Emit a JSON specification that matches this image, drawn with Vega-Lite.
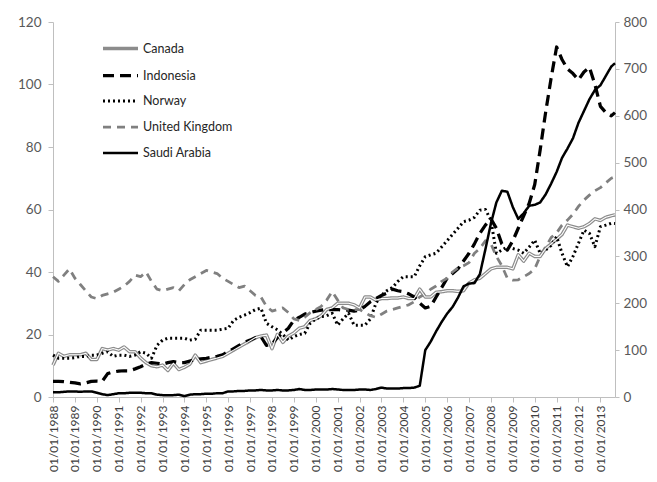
{
  "$schema": "https://vega.github.io/schema/vega-lite/v6.json",
  "width": 562,
  "height": 375,
  "autosize": "none",
  "padding": {"left": 53, "top": 22, "right": 42, "bottom": 85},
  "background": "white",
  "config": {"view": {"stroke": null}, "font": "Lato", "legend": {"rowPadding": -1.7}},
  "data": {"values": [
    {"d":"1988-01-01","Canada":10.2,"Indonesia":5,"Norway":13.4,"United Kingdom":38.5,"Saudi Arabia":10},
    {"d":"1988-04-01","Canada":14,"Indonesia":5,"Norway":12.4,"United Kingdom":37,"Saudi Arabia":10},
    {"d":"1988-07-01","Canada":13,"Indonesia":4.9,"Norway":12.4,"United Kingdom":39,"Saudi Arabia":11},
    {"d":"1988-10-01","Canada":13.5,"Indonesia":4.7,"Norway":12.4,"United Kingdom":41,"Saudi Arabia":12},
    {"d":"1989-01-01","Canada":13.5,"Indonesia":4.5,"Norway":12.6,"United Kingdom":38,"Saudi Arabia":12},
    {"d":"1989-04-01","Canada":13.5,"Indonesia":4.2,"Norway":13,"United Kingdom":36,"Saudi Arabia":11},
    {"d":"1989-07-01","Canada":14,"Indonesia":4.5,"Norway":13,"United Kingdom":34,"Saudi Arabia":12},
    {"d":"1989-10-01","Canada":12,"Indonesia":5,"Norway":13.4,"United Kingdom":32,"Saudi Arabia":12},
    {"d":"1990-01-01","Canada":12,"Indonesia":5.1,"Norway":13.4,"United Kingdom":31.5,"Saudi Arabia":9},
    {"d":"1990-04-01","Canada":15.5,"Indonesia":5,"Norway":14,"United Kingdom":32.5,"Saudi Arabia":6},
    {"d":"1990-07-01","Canada":15,"Indonesia":7.5,"Norway":14.5,"United Kingdom":33,"Saudi Arabia":4},
    {"d":"1990-10-01","Canada":15.5,"Indonesia":8,"Norway":13,"United Kingdom":33.5,"Saudi Arabia":6},
    {"d":"1991-01-01","Canada":15,"Indonesia":8.3,"Norway":13.4,"United Kingdom":34.5,"Saudi Arabia":8},
    {"d":"1991-04-01","Canada":16,"Indonesia":8.4,"Norway":13.4,"United Kingdom":35.5,"Saudi Arabia":8},
    {"d":"1991-07-01","Canada":14.5,"Indonesia":8.4,"Norway":13,"United Kingdom":37,"Saudi Arabia":9},
    {"d":"1991-10-01","Canada":14.5,"Indonesia":9,"Norway":13.4,"United Kingdom":39,"Saudi Arabia":9},
    {"d":"1992-01-01","Canada":12.5,"Indonesia":9.7,"Norway":14.5,"United Kingdom":38.5,"Saudi Arabia":9},
    {"d":"1992-04-01","Canada":11,"Indonesia":10.5,"Norway":14,"United Kingdom":40,"Saudi Arabia":8},
    {"d":"1992-07-01","Canada":10,"Indonesia":11,"Norway":12.4,"United Kingdom":37,"Saudi Arabia":8},
    {"d":"1992-10-01","Canada":9.7,"Indonesia":10.8,"Norway":16.5,"United Kingdom":34.5,"Saudi Arabia":5},
    {"d":"1993-01-01","Canada":10.2,"Indonesia":10.5,"Norway":18.2,"United Kingdom":34,"Saudi Arabia":4},
    {"d":"1993-04-01","Canada":8.5,"Indonesia":11,"Norway":18.8,"United Kingdom":34.5,"Saudi Arabia":4},
    {"d":"1993-07-01","Canada":10.8,"Indonesia":11.3,"Norway":18.8,"United Kingdom":35,"Saudi Arabia":4},
    {"d":"1993-10-01","Canada":8.8,"Indonesia":11,"Norway":18.8,"United Kingdom":34,"Saudi Arabia":5},
    {"d":"1994-01-01","Canada":9.5,"Indonesia":11,"Norway":18.8,"United Kingdom":36,"Saudi Arabia":2},
    {"d":"1994-04-01","Canada":10.5,"Indonesia":11.5,"Norway":18.2,"United Kingdom":37.5,"Saudi Arabia":5},
    {"d":"1994-07-01","Canada":13.4,"Indonesia":12,"Norway":18.5,"United Kingdom":38.5,"Saudi Arabia":6},
    {"d":"1994-10-01","Canada":11,"Indonesia":12.2,"Norway":21.4,"United Kingdom":39.5,"Saudi Arabia":6},
    {"d":"1995-01-01","Canada":11.5,"Indonesia":12.4,"Norway":21.4,"United Kingdom":40.5,"Saudi Arabia":7},
    {"d":"1995-04-01","Canada":12,"Indonesia":12.7,"Norway":21.4,"United Kingdom":40,"Saudi Arabia":7},
    {"d":"1995-07-01","Canada":12.5,"Indonesia":13,"Norway":21.4,"United Kingdom":39.5,"Saudi Arabia":8},
    {"d":"1995-10-01","Canada":13,"Indonesia":13.5,"Norway":21.7,"United Kingdom":38,"Saudi Arabia":8},
    {"d":"1996-01-01","Canada":14,"Indonesia":14.5,"Norway":22,"United Kingdom":37,"Saudi Arabia":12},
    {"d":"1996-04-01","Canada":15,"Indonesia":15.5,"Norway":24.5,"United Kingdom":36,"Saudi Arabia":12},
    {"d":"1996-07-01","Canada":16,"Indonesia":16.5,"Norway":25.5,"United Kingdom":35,"Saudi Arabia":13},
    {"d":"1996-10-01","Canada":17,"Indonesia":17.5,"Norway":26.2,"United Kingdom":35.5,"Saudi Arabia":13},
    {"d":"1997-01-01","Canada":18,"Indonesia":18.2,"Norway":27,"United Kingdom":34,"Saudi Arabia":14},
    {"d":"1997-04-01","Canada":19,"Indonesia":19,"Norway":28,"United Kingdom":32.5,"Saudi Arabia":14},
    {"d":"1997-07-01","Canada":19.5,"Indonesia":19.3,"Norway":28.4,"United Kingdom":32,"Saudi Arabia":15},
    {"d":"1997-10-01","Canada":19.8,"Indonesia":16.5,"Norway":23.6,"United Kingdom":29,"Saudi Arabia":14},
    {"d":"1998-01-01","Canada":15.5,"Indonesia":17,"Norway":22.5,"United Kingdom":27.5,"Saudi Arabia":14},
    {"d":"1998-04-01","Canada":20,"Indonesia":19,"Norway":21.5,"United Kingdom":28,"Saudi Arabia":15},
    {"d":"1998-07-01","Canada":17.5,"Indonesia":20.5,"Norway":20,"United Kingdom":28.5,"Saudi Arabia":14},
    {"d":"1998-10-01","Canada":19.5,"Indonesia":22,"Norway":18.2,"United Kingdom":27,"Saudi Arabia":14},
    {"d":"1999-01-01","Canada":20.5,"Indonesia":24.6,"Norway":19.3,"United Kingdom":25,"Saudi Arabia":15},
    {"d":"1999-04-01","Canada":22,"Indonesia":25.5,"Norway":20,"United Kingdom":24.5,"Saudi Arabia":17},
    {"d":"1999-07-01","Canada":22.5,"Indonesia":26.5,"Norway":20.4,"United Kingdom":25.5,"Saudi Arabia":15},
    {"d":"1999-10-01","Canada":24.5,"Indonesia":27,"Norway":23.6,"United Kingdom":27,"Saudi Arabia":15},
    {"d":"2000-01-01","Canada":25,"Indonesia":27.5,"Norway":25,"United Kingdom":28,"Saudi Arabia":16},
    {"d":"2000-04-01","Canada":26,"Indonesia":27.8,"Norway":25.7,"United Kingdom":29,"Saudi Arabia":16},
    {"d":"2000-07-01","Canada":28,"Indonesia":28,"Norway":26,"United Kingdom":31,"Saudi Arabia":16},
    {"d":"2000-10-01","Canada":28.5,"Indonesia":28,"Norway":26.8,"United Kingdom":33.7,"Saudi Arabia":17},
    {"d":"2001-01-01","Canada":30,"Indonesia":28,"Norway":23,"United Kingdom":31,"Saudi Arabia":16},
    {"d":"2001-04-01","Canada":30,"Indonesia":27.8,"Norway":25,"United Kingdom":28.5,"Saudi Arabia":15},
    {"d":"2001-07-01","Canada":30,"Indonesia":27.8,"Norway":26.8,"United Kingdom":28,"Saudi Arabia":15},
    {"d":"2001-10-01","Canada":29.5,"Indonesia":27.5,"Norway":23,"United Kingdom":28,"Saudi Arabia":15},
    {"d":"2002-01-01","Canada":28.5,"Indonesia":27.8,"Norway":23,"United Kingdom":28,"Saudi Arabia":16},
    {"d":"2002-04-01","Canada":32,"Indonesia":29,"Norway":23,"United Kingdom":27,"Saudi Arabia":16},
    {"d":"2002-07-01","Canada":32,"Indonesia":30.5,"Norway":25,"United Kingdom":26,"Saudi Arabia":15},
    {"d":"2002-10-01","Canada":31,"Indonesia":31.5,"Norway":30,"United Kingdom":25.5,"Saudi Arabia":17},
    {"d":"2003-01-01","Canada":31.5,"Indonesia":32.5,"Norway":32.6,"United Kingdom":26.5,"Saudi Arabia":20},
    {"d":"2003-04-01","Canada":31.5,"Indonesia":33.2,"Norway":34,"United Kingdom":27.5,"Saudi Arabia":18},
    {"d":"2003-07-01","Canada":31.7,"Indonesia":34.5,"Norway":35,"United Kingdom":28,"Saudi Arabia":18},
    {"d":"2003-10-01","Canada":31.7,"Indonesia":34,"Norway":37,"United Kingdom":28.5,"Saudi Arabia":18},
    {"d":"2004-01-01","Canada":32,"Indonesia":33.7,"Norway":38.5,"United Kingdom":29,"Saudi Arabia":19},
    {"d":"2004-04-01","Canada":31.5,"Indonesia":33,"Norway":38.5,"United Kingdom":29.5,"Saudi Arabia":19},
    {"d":"2004-07-01","Canada":31.5,"Indonesia":32,"Norway":38.5,"United Kingdom":30.5,"Saudi Arabia":20},
    {"d":"2004-10-01","Canada":34.5,"Indonesia":30,"Norway":42,"United Kingdom":32,"Saudi Arabia":24},
    {"d":"2005-01-01","Canada":32,"Indonesia":28.5,"Norway":44.9,"United Kingdom":33,"Saudi Arabia":100},
    {"d":"2005-04-01","Canada":32,"Indonesia":29,"Norway":45.5,"United Kingdom":34.5,"Saudi Arabia":118},
    {"d":"2005-07-01","Canada":33.5,"Indonesia":32,"Norway":46,"United Kingdom":35.5,"Saudi Arabia":140},
    {"d":"2005-10-01","Canada":33.7,"Indonesia":35,"Norway":48,"United Kingdom":37,"Saudi Arabia":160},
    {"d":"2006-01-01","Canada":34,"Indonesia":38,"Norway":50,"United Kingdom":38,"Saudi Arabia":178},
    {"d":"2006-04-01","Canada":34,"Indonesia":39.5,"Norway":52,"United Kingdom":40,"Saudi Arabia":192},
    {"d":"2006-07-01","Canada":33.8,"Indonesia":41,"Norway":54,"United Kingdom":41.3,"Saudi Arabia":212},
    {"d":"2006-10-01","Canada":34,"Indonesia":43.5,"Norway":56.1,"United Kingdom":42,"Saudi Arabia":236},
    {"d":"2007-01-01","Canada":36.5,"Indonesia":46,"Norway":56.6,"United Kingdom":43,"Saudi Arabia":242},
    {"d":"2007-04-01","Canada":37.5,"Indonesia":49,"Norway":57.5,"United Kingdom":46,"Saudi Arabia":243},
    {"d":"2007-07-01","Canada":38,"Indonesia":52.4,"Norway":59.8,"United Kingdom":47.5,"Saudi Arabia":262},
    {"d":"2007-10-01","Canada":39.5,"Indonesia":55,"Norway":60,"United Kingdom":50,"Saudi Arabia":315},
    {"d":"2008-01-01","Canada":41,"Indonesia":57,"Norway":56.6,"United Kingdom":49,"Saudi Arabia":370},
    {"d":"2008-04-01","Canada":41.5,"Indonesia":54,"Norway":46,"United Kingdom":45,"Saudi Arabia":415},
    {"d":"2008-07-01","Canada":41.5,"Indonesia":49,"Norway":47,"United Kingdom":42,"Saudi Arabia":440},
    {"d":"2008-10-01","Canada":41.5,"Indonesia":47,"Norway":48.1,"United Kingdom":38,"Saudi Arabia":438},
    {"d":"2009-01-01","Canada":41,"Indonesia":50,"Norway":47.5,"United Kingdom":37.4,"Saudi Arabia":405},
    {"d":"2009-04-01","Canada":45.5,"Indonesia":54,"Norway":47,"United Kingdom":37.5,"Saudi Arabia":380},
    {"d":"2009-07-01","Canada":43.5,"Indonesia":58,"Norway":46,"United Kingdom":38.5,"Saudi Arabia":392},
    {"d":"2009-10-01","Canada":46,"Indonesia":62,"Norway":48,"United Kingdom":39.5,"Saudi Arabia":408},
    {"d":"2010-01-01","Canada":45,"Indonesia":68,"Norway":50.2,"United Kingdom":41,"Saudi Arabia":410},
    {"d":"2010-04-01","Canada":45,"Indonesia":79,"Norway":46,"United Kingdom":45,"Saudi Arabia":415},
    {"d":"2010-07-01","Canada":47.5,"Indonesia":91,"Norway":47,"United Kingdom":48,"Saudi Arabia":432},
    {"d":"2010-10-01","Canada":49,"Indonesia":102,"Norway":48.5,"United Kingdom":51,"Saudi Arabia":455},
    {"d":"2011-01-01","Canada":50.5,"Indonesia":112,"Norway":51.3,"United Kingdom":52.5,"Saudi Arabia":480},
    {"d":"2011-04-01","Canada":52,"Indonesia":108,"Norway":46,"United Kingdom":55,"Saudi Arabia":510},
    {"d":"2011-07-01","Canada":55,"Indonesia":105,"Norway":41.7,"United Kingdom":56.6,"Saudi Arabia":530},
    {"d":"2011-10-01","Canada":54.5,"Indonesia":103.5,"Norway":45,"United Kingdom":58.5,"Saudi Arabia":552},
    {"d":"2012-01-01","Canada":54,"Indonesia":101.5,"Norway":49.2,"United Kingdom":61,"Saudi Arabia":585},
    {"d":"2012-04-01","Canada":54.5,"Indonesia":104,"Norway":53.4,"United Kingdom":63,"Saudi Arabia":610},
    {"d":"2012-07-01","Canada":55.5,"Indonesia":105.5,"Norway":52.4,"United Kingdom":64.6,"Saudi Arabia":635},
    {"d":"2012-10-01","Canada":57,"Indonesia":100,"Norway":48.1,"United Kingdom":66,"Saudi Arabia":655},
    {"d":"2013-01-01","Canada":56.5,"Indonesia":93,"Norway":54.5,"United Kingdom":67,"Saudi Arabia":665},
    {"d":"2013-04-01","Canada":57.5,"Indonesia":91,"Norway":55,"United Kingdom":68.5,"Saudi Arabia":685},
    {"d":"2013-07-01","Canada":58,"Indonesia":90,"Norway":55.6,"United Kingdom":70,"Saudi Arabia":705},
    {"d":"2013-09-01","Canada":58.3,"Indonesia":91,"Norway":55.5,"United Kingdom":70.5,"Saudi Arabia":712}
  ]},
  "encoding": {
    "x": {
      "field": "d", "type": "temporal",
      "scale": {"type": "utc", "domain": [{"year": 1988, "month": 1, "date": 1, "utc": true}, {"year": 2013, "month": 9, "date": 1, "utc": true}]},
      "axis": {
        "title": null, "grid": false,
        "tickCount": {"interval": "year", "step": 1},
        "format": "%d/%m/%Y",
        "labelAngle": -90, "labelFontSize": 12, "labelColor": "#404040",
        "labelPadding": 3, "tickSize": 5, "tickColor": "#bfbfbf", "domainColor": "#bfbfbf",
        "labelOverlap": false, "labelFlush": false
      }
    }
  },
  "layer": [
    {
      "transform": [{"fold": ["Canada", "Indonesia", "Norway", "United Kingdom"], "as": ["country", "v"]}],
      "mark": {"type": "line", "strokeCap": "butt", "strokeJoin": "round"},
      "encoding": {
        "y": {"field": "v", "type": "quantitative",
          "scale": {"domain": [0, 120], "nice": false},
          "axis": {"title": null, "grid": false, "values": [0, 20, 40, 60, 80, 100, 120],
            "labelFontSize": 13.5, "labelColor": "#595959", "labelPadding": 7,
            "tickSize": 5, "tickColor": "#bfbfbf", "domainColor": "#bfbfbf"}},
        "color": {"field": "country", "type": "nominal",
          "scale": {"domain": ["Canada", "Indonesia", "Norway", "United Kingdom", "Saudi Arabia"],
                    "range": ["#8c8c8c", "#000000", "#000000", "#808080", "#000000"]},
          "legend": {"title": null, "orient": "none", "legendX": 48, "legendY": 7,
            "symbolType": "stroke", "symbolSize": 1225, "labelFontSize": 12.5, "labelColor": "#262626",
            "labelOffset": 3}},
        "strokeDash": {"field": "country", "type": "nominal",
          "scale": {"domain": ["Canada", "Indonesia", "Norway", "United Kingdom", "Saudi Arabia"],
                    "range": [[1, 0], [11, 6], [2, 3], [8, 6], [1, 0]]}},
        "strokeWidth": {"field": "country", "type": "nominal",
          "scale": {"domain": ["Canada", "Indonesia", "Norway", "United Kingdom", "Saudi Arabia"],
                    "range": [3.5, 2.5, 2, 3, 2.5]}}
      }
    },
    {
      "transform": [{"fold": ["Canada"], "as": ["country", "v"]}],
      "mark": {"type": "line", "color": "white", "strokeWidth": 1.1},
      "encoding": {
        "y": {"field": "v", "type": "quantitative", "scale": {"domain": [0, 120], "nice": false}, "axis": null}
      }
    },
    {
      "transform": [{"fold": ["Saudi Arabia"], "as": ["country", "v"]}],
      "mark": {"type": "line", "strokeJoin": "round"},
      "encoding": {
        "y": {"field": "v", "type": "quantitative",
          "scale": {"domain": [0, 800], "nice": false},
          "axis": {"orient": "right", "title": null, "grid": false, "values": [0, 100, 200, 300, 400, 500, 600, 700, 800],
            "labelFontSize": 13.5, "labelColor": "#595959", "labelPadding": 4,
            "tickSize": 4, "tickColor": "#bfbfbf", "domainColor": "#bfbfbf"}},
        "color": {"field": "country", "type": "nominal",
          "scale": {"domain": ["Canada", "Indonesia", "Norway", "United Kingdom", "Saudi Arabia"],
                    "range": ["#8c8c8c", "#000000", "#000000", "#808080", "#000000"]}},
        "strokeDash": {"field": "country", "type": "nominal",
          "scale": {"domain": ["Canada", "Indonesia", "Norway", "United Kingdom", "Saudi Arabia"],
                    "range": [[1, 0], [11, 6], [2, 3], [8, 6], [1, 0]]}},
        "strokeWidth": {"field": "country", "type": "nominal",
          "scale": {"domain": ["Canada", "Indonesia", "Norway", "United Kingdom", "Saudi Arabia"],
                    "range": [3.5, 2.5, 2, 3, 2.5]}}
      }
    }
  ],
  "resolve": {"scale": {"y": "independent"}}
}
